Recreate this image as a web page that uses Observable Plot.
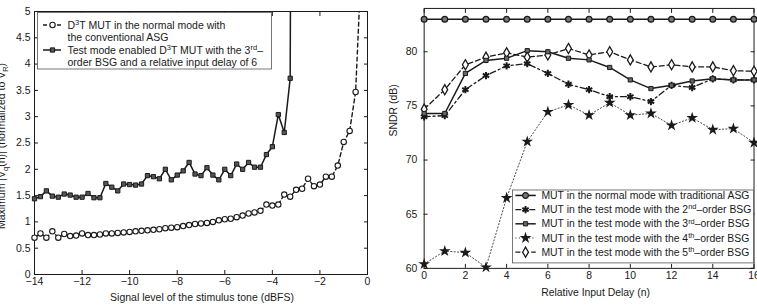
<!DOCTYPE html>
<html>
<head>
<meta charset="utf-8">
<script src="https://cdn.jsdelivr.net/npm/d3@7"></script>
<script src="https://cdn.jsdelivr.net/npm/@observablehq/plot@0.6"></script>
<style>
  html, body { margin: 0; padding: 0; background: #fff; overflow: hidden; width: 757px; height: 306px; }
  #wrap { position: relative; width: 757px; height: 306px; }
  #left, #right { position: absolute; top: 0; }
  #left { left: 0; }
  #right { left: 380px; }
  svg text { font-family: "Liberation Sans", Arial, Helvetica, sans-serif; }
</style>
</head>
<body>
<div id="wrap"><div id="left"></div><div id="right"></div></div>
<script>
// ---------- Left panel: maximum |Vq(n)| versus stimulus level ----------
const signalLevel = [
  -14, -13.75, -13.5, -13.25, -13, -12.75, -12.5, -12.25, -12, -11.75, -11.5, -11.25,
  -11, -10.75, -10.5, -10.25, -10, -9.75, -9.5, -9.25, -9, -8.75, -8.5, -8.25,
  -8, -7.75, -7.5, -7.25, -7, -6.75, -6.5, -6.25, -6, -5.75, -5.5, -5.25,
  -5, -4.75, -4.5, -4.25, -4, -3.75, -3.5, -3.25, -3, -2.75, -2.5, -2.25,
  -2, -1.75, -1.5, -1.25, -1, -0.75, -0.5, -0.25
];
// normal mode, conventional ASG (last point runs off the top of the axes)
const normalMax = [
  0.70, 0.78, 0.70, 0.82, 0.70, 0.77, 0.73, 0.74, 0.78, 0.75, 0.75, 0.76,
  0.78, 0.78, 0.79, 0.80, 0.81, 0.82, 0.83, 0.84, 0.85, 0.86, 0.88, 0.89,
  0.90, 0.92, 0.94, 0.96, 0.97, 0.98, 1.00, 1.03, 1.05, 1.06, 1.09, 1.12,
  1.16, 1.18, 1.21, 1.33, 1.31, 1.33, 1.52, 1.48, 1.61, 1.63, 1.82, 1.68,
  1.71, 1.86, 1.86, 2.07, 2.52, 2.73, 3.47, 6.0
];
// test mode, 3rd-order BSG, relative input delay 6 (defined from -14 to -3 dBFS)
const testMax = [
  1.44, 1.48, 1.59, 1.49, 1.47, 1.53, 1.51, 1.47, 1.47, 1.54, 1.46, 1.46,
  1.73, 1.66, 1.59, 1.72, 1.71, 1.70, 1.72, 1.88, 1.86, 1.82, 2.00, 1.80,
  1.89, 1.97, 2.13, 1.91, 1.88, 2.03, 1.89, 1.80, 2.00, 1.88, 2.10, 2.00,
  2.13, 2.04, 2.04, 2.28, 2.43, 3.04, 2.70, 3.73, 40
];
const xTicksLeft = [-14, -12, -10, -8, -6, -4, -2, 0];
const yTicksLeft = [0, 0.5, 1, 1.5, 2, 2.5, 3, 3.5, 4, 4.5, 5];

// ---------- Right panel: SNDR versus relative input delay ----------
const delay = [0, 1, 2, 3, 4, 5, 6, 7, 8, 9, 10, 11, 12, 13, 14, 15, 16];
const sndrASG  = [83, 83, 83, 83, 83, 83, 83, 83, 83, 83, 83, 83, 83, 83, 83, 83, 83];
const sndrBSG2 = [74.0, 74.1, 76.5, 77.8, 78.7, 78.9, 78.0, 77.0, 76.5, 75.85, 75.85, 75.4, 76.9, 76.7, 77.5, 77.4, 77.4];
const sndrBSG3 = [74.3, 74.3, 78.0, 79.2, 79.4, 80.1, 80.0, 79.4, 79.25, 78.55, 77.4, 76.6, 76.9, 77.3, 77.5, 77.4, 77.4];
const sndrBSG4 = [60.4, 61.6, 61.45, 60.1, 66.5, 71.7, 74.45, 75.1, 74.15, 75.3, 74.15, 74.3, 73.2, 73.9, 72.8, 72.9, 71.6];
const sndrBSG5 = [74.7, 76.5, 78.8, 79.5, 79.9, 79.5, 79.7, 80.3, 79.7, 80.0, 79.25, 78.6, 78.8, 78.6, 78.6, 78.25, 78.2];
const xTicksRight = [0, 2, 4, 6, 8, 10, 12, 14, 16];
const yTicksRight = [60, 65, 70, 75, 80];

const FONT = '"Liberation Sans", Arial, Helvetica, sans-serif';
const minus = d => String(d).replace("-", "\u2212");
const blank = () => "";
const INK = "#1a1a1a";

const normalRows = signalLevel.map((x, i) => ({x, v: normalMax[i]}));
const testRows = testMax.map((v, i) => ({x: signalLevel[i], v}));

// Inward ticks on all four sides, labels only bottom/left
function boxAxes(xt, yt, fmtX, fmtY, padX, padY) {
  return [
    Plot.frame({stroke: INK, strokeWidth: 1}),
    Plot.axisX({ticks: xt, tickSize: -4, tickPadding: padX, tickFormat: fmtX, label: null, stroke: INK}),
    Plot.axisX({anchor: "top", ticks: xt, tickSize: -4, tickFormat: blank, label: null, stroke: INK}),
    Plot.axisY({ticks: yt, tickSize: -4, tickPadding: padY, tickFormat: fmtY, label: null, stroke: INK}),
    Plot.axisY({anchor: "right", ticks: yt, tickSize: -4, tickFormat: blank, label: null, stroke: INK})
  ];
}

const leftPlot = Plot.plot({
  width: 380, height: 306,
  marginLeft: 34, marginRight: 13, marginTop: 11, marginBottom: 32,
  style: {fontFamily: FONT, fontSize: "10.5px", color: INK, background: "white"},
  x: {type: "linear", domain: [-14, 0]},
  y: {type: "linear", domain: [0, 5]},
  marks: [
    ...boxAxes(xTicksLeft, yTicksLeft, minus, d => String(d), 7, 8),
    Plot.line(normalRows, {x: "x", y: "v", stroke: INK, strokeWidth: 1.4, strokeDasharray: "4,3", clip: true}),
    Plot.line(testRows, {x: "x", y: "v", stroke: INK, strokeWidth: 1.5, clip: true}),
    Plot.dot(normalRows, {filter: d => d.v <= 5, x: "x", y: "v", r: 2.7, fill: "white", stroke: INK, strokeWidth: 1.1}),
    Plot.dot(testRows, {filter: d => d.v <= 5, x: "x", y: "v", symbol: "square", r: 2.4, fill: "#555", stroke: INK, strokeWidth: 1}),
    Plot.text(["Signal level of the stimulus tone (dBFS)"], {frameAnchor: "bottom", text: d => d, dy: 23, dx: 1, lineAnchor: "middle", fill: INK})
  ]
});

const rightRows = delay.map((x, i) => ({
  x, asg: sndrASG[i], b2: sndrBSG2[i], b3: sndrBSG3[i], b4: sndrBSG4[i], b5: sndrBSG5[i]
}));

const rightPlot = Plot.plot({
  width: 380, height: 306,
  marginLeft: 44, marginRight: 3.5, marginTop: 8, marginBottom: 36,
  style: {fontFamily: FONT, fontSize: "10.5px", color: INK, background: "white"},
  x: {type: "linear", domain: [0, 16]},
  y: {type: "linear", domain: [60, 84]},
  marks: [
    ...boxAxes(xTicksRight, yTicksRight, d => String(d), d => String(d), 7, 11),
    Plot.line(rightRows, {x: "x", y: "b4", stroke: "#444", strokeWidth: 1, strokeDasharray: "1.2,2.2"}),
    Plot.line(rightRows, {x: "x", y: "b5", stroke: INK, strokeWidth: 1.3, strokeDasharray: "5,3"}),
    Plot.line(rightRows, {x: "x", y: "b2", stroke: INK, strokeWidth: 1.3, strokeDasharray: "6,3,2,3"}),
    Plot.line(rightRows, {x: "x", y: "b3", stroke: INK, strokeWidth: 1.5}),
    Plot.line(rightRows, {x: "x", y: "asg", stroke: INK, strokeWidth: 1.6}),
    Plot.dot(rightRows, {x: "x", y: "b4", symbol: "star", r: 3.7, fill: INK, stroke: "none"}),
    Plot.dot(rightRows, {x: "x", y: "b5", symbol: "diamond", r: 3.1, fill: "white", stroke: INK, strokeWidth: 1.3}),
    Plot.dot(rightRows, {x: "x", y: "b2", symbol: "asterisk", r: 3.5, stroke: INK, strokeWidth: 2}),
    Plot.dot(rightRows, {x: "x", y: "b3", symbol: "square", r: 2.4, fill: "#666", stroke: INK, strokeWidth: 1}),
    Plot.dot(rightRows, {x: "x", y: "asg", r: 2.9, fill: "#777", stroke: INK, strokeWidth: 1.3}),
    Plot.text(["Relative Input Delay (n)"], {frameAnchor: "bottom", text: d => d, dy: 24, dx: 6.5, lineAnchor: "middle", fill: INK}),
    Plot.text(["SNDR (dB)"], {frameAnchor: "left", text: d => d, rotate: -90, dx: -31, dy: -2, lineAnchor: "middle", fill: INK})
  ]
});

document.getElementById("left").appendChild(leftPlot);
document.getElementById("right").appendChild(rightPlot);

// ---------- Texts with super/subscripts and legends ----------
function richText(g, x, y, parts, anchor) {
  const t = g.append("text").attr("x", x).attr("y", y)
    .attr("font-family", FONT).attr("font-size", 10.5).attr("fill", INK)
    .attr("text-anchor", anchor || "start");
  let pending = 0;
  for (const p of parts) {
    if (typeof p === "string") {
      const s = t.append("tspan").text(p);
      if (pending) s.attr("dy", pending);
      pending = 0;
      continue;
    }
    const shift = p.sup ? -4 : 3;
    t.append("tspan").attr("dy", shift + pending).attr("font-size", 7.5).text(p.sup || p.sub);
    pending = -shift;
  }
  return t;
}
function symbolPath(type, r) {
  return d3.symbol(type, Math.PI * r * r)();
}

// left y-axis title (runs past the page edge)
{
  const svg = d3.select(leftPlot);
  const g = svg.append("g").attr("transform", "translate(5,146) rotate(-90)");
  richText(g, 0, 0, ["Maximum |V", {sub: "q"}, "(n)| (normalized to V", {sub: "R"}, ")"], "middle");

  const L = svg.append("g");
  L.append("rect").attr("x", 37.5).attr("y", 12.5).attr("width", 234).attr("height", 56.5)
    .attr("fill", "white").attr("stroke", "#555").attr("stroke-width", 0.8);
  // entry 1: dashed line with open circle
  L.append("line").attr("x1", 43).attr("x2", 61).attr("y1", 25).attr("y2", 25)
    .attr("stroke", INK).attr("stroke-width", 1.4).attr("stroke-dasharray", "4,3");
  L.append("circle").attr("cx", 52.5).attr("cy", 25).attr("r", 2.7)
    .attr("fill", "white").attr("stroke", INK).attr("stroke-width", 1.1);
  // entry 2: solid line with square
  L.append("line").attr("x1", 43).attr("x2", 61).attr("y1", 50).attr("y2", 50)
    .attr("stroke", INK).attr("stroke-width", 1.5);
  L.append("path").attr("d", symbolPath(d3.symbolSquare, 2.4)).attr("transform", "translate(52.5,50)")
    .attr("fill", "#555").attr("stroke", INK);
  richText(L, 67.5, 28.7, ["D", {sup: "3"}, "T MUT in the normal mode with"]);
  richText(L, 67.5, 41.2, ["the conventional ASG"]);
  richText(L, 67.5, 53.7, ["Test mode enabled D", {sup: "3"}, "T MUT with the 3", {sup: "rd"}, "\u2013"]);
  richText(L, 67.5, 66.2, ["order BSG and a relative input delay of 6"]);
}

// right legend
{
  const svg = d3.select(rightPlot);
  const L = svg.append("g");
  L.append("rect").attr("x", 133.5).attr("y", 191.5).attr("width", 243).attr("height", 73.5)
    .attr("fill", "white").attr("stroke", "#555").attr("stroke-width", 0.8);
  const entries = [
    {dash: null, w: 1.6, sym: d3.symbolCircle, r: 2.9, fill: "#777", stroke: INK, sw: 1.3,
     parts: ["MUT in the normal mode with traditional ASG"]},
    {dash: "6,3,2,3", w: 1.3, sym: d3.symbolAsterisk, r: 3.5, fill: "none", stroke: INK, sw: 2,
     parts: ["MUT in the test mode with the 2", {sup: "nd"}, "\u2013order BSG"]},
    {dash: null, w: 1.5, sym: d3.symbolSquare, r: 2.4, fill: "#666", stroke: INK, sw: 1,
     parts: ["MUT in the test mode with the 3", {sup: "rd"}, "\u2013order BSG"]},
    {dash: "1.2,2.2", w: 1, sym: d3.symbolStar, r: 3.7, fill: INK, stroke: "none", sw: 0, lineColor: "#444",
     parts: ["MUT in the test mode with the 4", {sup: "th"}, "\u2013order BSG"]},
    {dash: "5,3", w: 1.3, sym: d3.symbolDiamond, r: 3.1, fill: "white", stroke: INK, sw: 1.3,
     parts: ["MUT in the test mode with the 5", {sup: "th"}, "\u2013order BSG"]}
  ];
  const rowY = [197, 211.3, 225.6, 239.9, 254.2];
  entries.forEach((e, i) => {
    const y = rowY[i];
    L.append("line").attr("x1", 136.5).attr("x2", 157).attr("y1", y).attr("y2", y)
      .attr("stroke", e.lineColor || INK).attr("stroke-width", e.w).attr("stroke-dasharray", e.dash);
    L.append("path").attr("d", symbolPath(e.sym, e.r)).attr("transform", `translate(146.7,${y})`)
      .attr("fill", e.fill).attr("stroke", e.stroke).attr("stroke-width", e.sw);
    richText(L, 162.7, y + 3.7, e.parts);
  });
}
</script>
</body>
</html>
